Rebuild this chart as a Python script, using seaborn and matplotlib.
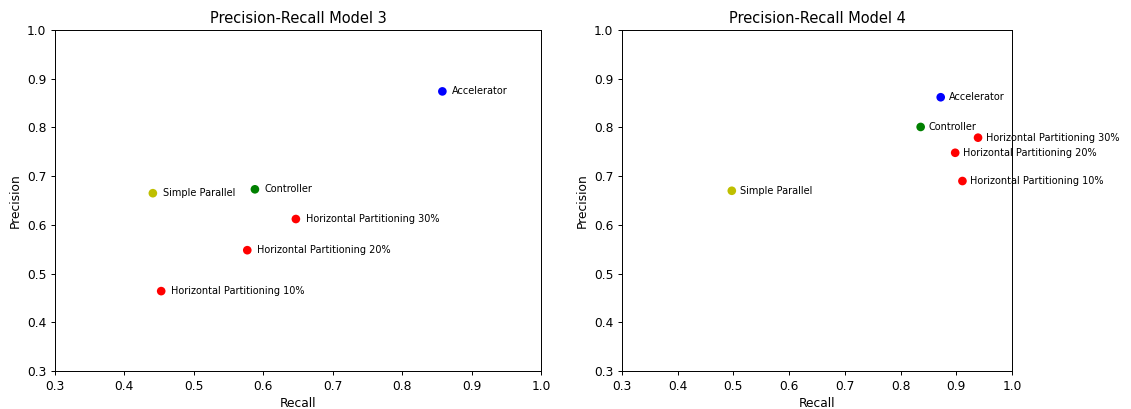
import matplotlib
matplotlib.use("Agg")
import matplotlib.pyplot as plt
import seaborn as sns
import pandas as pd

methods = ["Accelerator", "Simple Parallel", "Controller",
           "Horizontal Partitioning 30%", "Horizontal Partitioning 20%",
           "Horizontal Partitioning 10%"]
method_colors = ["b", "y", "g", "r", "r", "r"]

recall_m3 = [0.858, 0.441, 0.588, 0.647, 0.577, 0.453]
precision_m3 = [0.874, 0.665, 0.673, 0.612, 0.548, 0.464]

recall_m4 = [0.872, 0.497, 0.836, 0.939, 0.898, 0.911]
precision_m4 = [0.862, 0.670, 0.801, 0.779, 0.748, 0.690]

titles = ["Precision-Recall Model 3", "Precision-Recall Model 4"]
axis_limits = (0.3, 1.0)

DPI = 88
fig = plt.figure(figsize=(1131 / DPI, 409 / DPI), dpi=DPI)
ax_left = fig.add_axes([0.0486, 0.0929, 0.4297, 0.8337])
ax_right = fig.add_axes([0.5500, 0.0929, 0.3448, 0.8337])

palette = dict(zip(methods, method_colors))

for ax, rec, prec, title in [(ax_left, recall_m3, precision_m3, titles[0]),
                             (ax_right, recall_m4, precision_m4, titles[1])]:
    df = pd.DataFrame({"Recall": rec, "Precision": prec, "Method": methods})
    sns.scatterplot(data=df, x="Recall", y="Precision", hue="Method",
                    palette=palette, s=50, linewidth=0, legend=False,
                    ax=ax, zorder=3)
    for r, p, name in zip(rec, prec, methods):
        ax.text(r + 0.014, p, name, fontsize=8, va="center", ha="left",
                zorder=2, clip_on=False)
    ax.set_xlim(*axis_limits)
    ax.set_ylim(*axis_limits)
    ax.set_title(title, fontsize=12)
    ax.set_xlabel("Recall")
    ax.set_ylabel("Precision")

fig.savefig("out.png", dpi=DPI)
